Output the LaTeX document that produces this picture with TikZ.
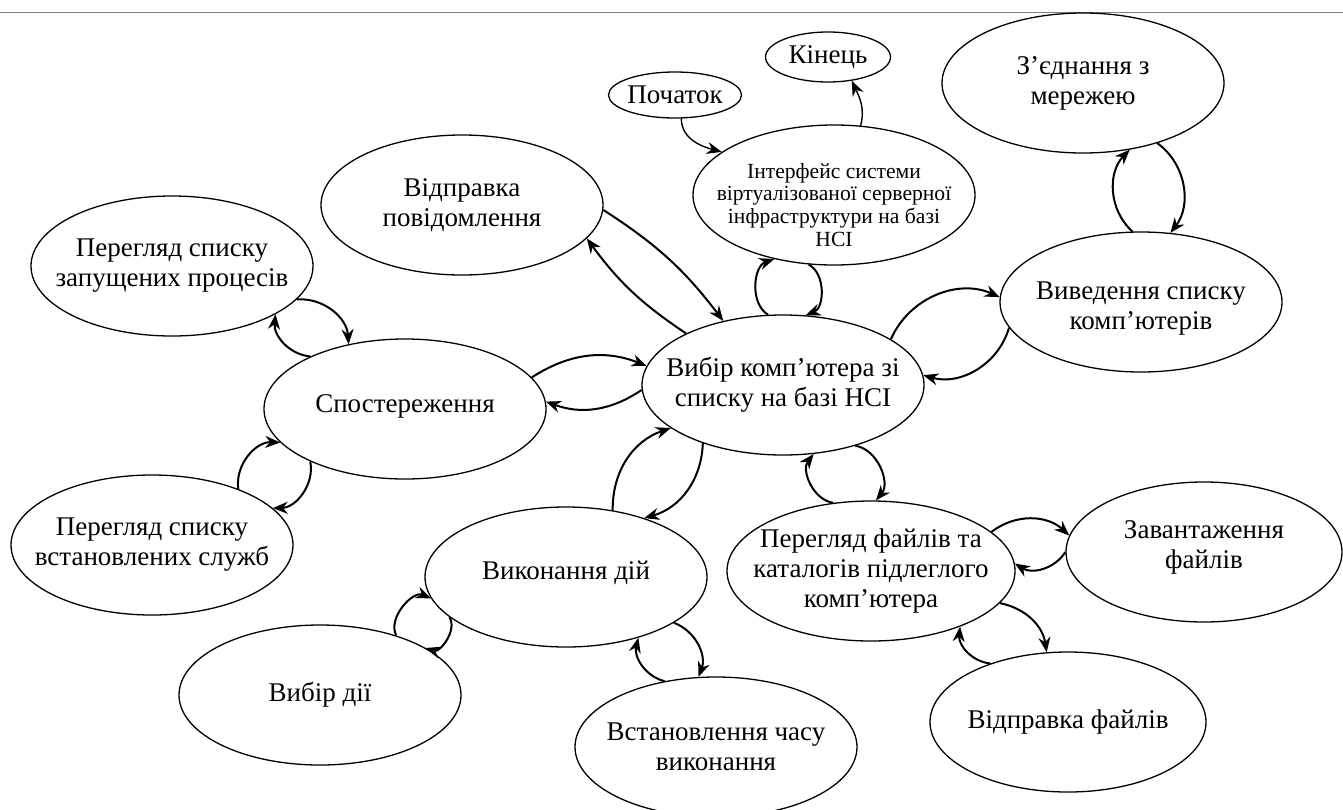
\documentclass[tikz,border=0pt]{standalone}
\usepackage{fontspec}
\setmainfont{Liberation Serif}
\usetikzlibrary{shapes.geometric,arrows.meta}

\begin{document}
\begin{tikzpicture}[x=0.5pt, y=0.5pt,
  st/.style={ellipse, draw, line width=0.65pt, minimum width=141pt, minimum height=70pt, inner sep=0pt},
  txt/.style={align=center, font=\fontsize{13.5}{15}\selectfont},
  arr/.style={-{Stealth[length=7.5pt, width=6pt]}, line width=1pt}]
  \useasboundingbox (0,0) rectangle (1343,-809);
  \draw[black!50, line width=0.5pt] (0,-12) -- (1343,-12);

  % states
  \node[st, minimum width=66.5pt, minimum height=23pt, label={[txt]center:Початок}] (poch) at (675,-95) {};
  \node[st, minimum width=62.5pt, minimum height=25pt, label={[txt]center:Кінець}] (kin) at (828,-57) {};
  \node[st, label={[txt, font=\fontsize{10.8}{11.4}\selectfont, yshift=-5pt]center:{Інтерфейс системи\\віртуалізованої серверної\\інфраструктури на базі\\HCI}}] (intf) at (834,-195) {};
  \node[st, label={[txt]center:{З’єднання з\\мережею}}] (zyed) at (1083,-83) {};
  \node[st, label={[txt, yshift=-3.5pt]center:{Виведення списку\\комп’ютерів}}] (vyved) at (1141,-302) {};
  \node[st, label={[txt]center:{Відправка\\повідомлення}}] (vidpov) at (462,-205) {};
  \node[st, label={[txt]center:{Перегляд списку\\запущених процесів}}] (zapus) at (172,-266) {};
  \node[st, label={[txt, yshift=1.5pt]center:Спостереження}] (spost) at (405,-409) {};
  \node[st, label={[txt]center:{Перегляд списку\\встановлених служб}}] (sluzhb) at (152,-545) {};
  \node[st, label={[txt]center:{Вибір комп’ютера зі\\списку на базі HCI}}] (vybir) at (783,-385) {};
  \node[st, label={[txt, yshift=2pt]center:Виконання дій}] (vykon) at (566,-577) {};
  \node[st, label={[txt]center:Вибір дії}] (vybdii) at (320,-695) {};
  \node[st, label={[txt]center:{Встановлення часу\\виконання}}] (chas) at (716,-747) {};
  \node[st, minimum width=144pt, label={[txt]center:{Перегляд файлів та\\каталогів підлеглого\\комп’ютера}}] (fajly) at (871,-571) {};
  \node[st, minimum width=138pt, label={[txt, yshift=2.5pt]center:{Завантаження\\файлів}}] (zavant) at (1204,-552) {};
  \node[st, minimum width=138pt, label={[txt]center:Відправка файлів}] (vidfajl) at (1068,-722) {};

  % transitions
  \draw[arr, line width=0.7pt] (poch.-75) to[out=-90, in=165] (intf.159);
  \draw[arr, line width=0.7pt] (intf.69) to[out=75, in=-65] (kin.-45);
  \draw[arr] (vidpov.-2) to[bend left=10] (vybir.133);
  \draw[arr] (vybir.152) to[bend left=10] (vidpov.-15);
  \draw[arr] (spost.14) to[bend left=27] (vybir.172);
  \draw[arr] (vybir.182) to[bend left=27] (spost.3);
  \draw[arr] (zapus.-15) to[bend left=45] (spost.131);
  \draw[arr] (spost.151) to[bend left=45] (zapus.-25);
  \draw[arr] (sluzhb.33) to[bend left=50] (spost.195);
  \draw[arr] (spost.209) to[bend left=50] (sluzhb.17);
  \draw[arr] (vybir.102) to[bend left=65] (intf.-133);
  \draw[arr] (intf.-110) to[bend left=65] (vybir.72);
  \draw[arr] (vybir.23) to[bend left=45] (vyved.178);
  \draw[arr] (vyved.191) to[bend left=45] (vybir.4);
  \draw[arr] (vyved.97) to[bend left=46] (zyed.-55);
  \draw[arr] (zyed.-39) to[bend left=46] (vyved.67);
  \draw[arr] (vybir.-40) to[bend left=60] (fajly.86);
  \draw[arr] (fajly.119) to[bend left=60] (vybir.-66);
  \draw[arr] (vykon.55) to[bend left=36] (vybir.201);
  \draw[arr] (vybir.216) to[bend left=36] (vykon.37);
  \draw[arr] (vybdii.38) to[bend left=70] (vykon.189);
  \draw[arr] (vykon.199) to[bend left=70] (vybdii.24);
  \draw[arr] (chas.128) to[bend left=45] (vykon.-40);
  \draw[arr] (vykon.-23) to[bend left=45] (chas.104);
  \draw[arr] (fajly.18) to[bend left=40] (zavant.173);
  \draw[arr] (zavant.180) to[bend left=45] (fajly.3);
  \draw[arr] (fajly.-14) to[bend left=35] (vidfajl.107);
  \draw[arr] (vidfajl.143) to[bend left=45] (fajly.-32);
\end{tikzpicture}
\end{document}
